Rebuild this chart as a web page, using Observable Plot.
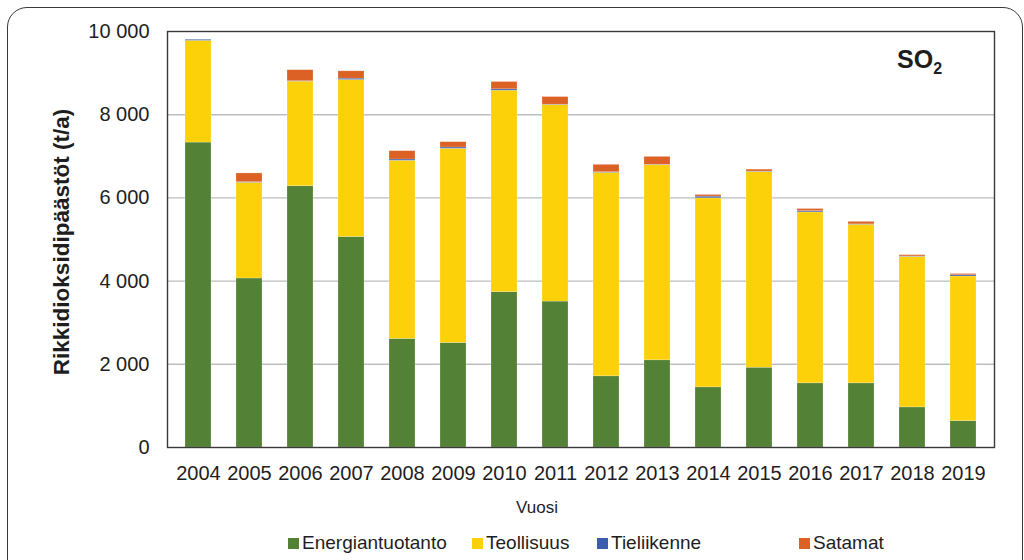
<!DOCTYPE html>
<html>
<head>
<meta charset="utf-8">
<script src="https://cdn.jsdelivr.net/npm/d3@7"></script>
<script src="https://cdn.jsdelivr.net/npm/@observablehq/plot@0.6"></script>
<style>
  html, body { margin: 0; padding: 0; background: #fff; }
  body { width: 1024px; height: 560px; overflow: hidden; position: relative; font-family: "Liberation Sans", Arial, sans-serif; color: #1e1e1e; }
  #border { position: absolute; left: 7px; top: 7px; width: 1016px; height: 600px; box-sizing: border-box; border: 1.5px solid #3a3a3a; border-radius: 20px; }
  #chart { position: absolute; left: 0; top: 0; }
  #ylabel { position: absolute; left: 62px; top: 242px; transform: translate(-50%, -50%) rotate(-90deg); font-weight: bold; font-size: 22.5px; white-space: nowrap; }
  #so2 { position: absolute; left: 897px; top: 45px; font-weight: bold; font-size: 25px; white-space: nowrap; }
  #so2 sub { font-size: 16px; vertical-align: -6px; }
  #xlabel { position: absolute; left: 537px; top: 508px; transform: translate(-50%, -50%); font-size: 17px; }
  .leg { position: absolute; top: 543px; transform: translateY(-50%); font-size: 19px; white-space: nowrap; display: flex; align-items: center; }
  .leg span.sw { display: inline-block; width: 11px; height: 11px; margin-right: 3px; }
</style>
</head>
<body>
<div id="border"></div>
<div id="chart"></div>
<div id="ylabel">Rikkidioksidipäästöt (t/a)</div>
<div id="so2">SO<sub>2</sub></div>
<div id="xlabel">Vuosi</div>
<div id="legend"></div>
<script>
const years = ["2004","2005","2006","2007","2008","2009","2010","2011","2012","2013","2014","2015","2016","2017","2018","2019"];
const seriesNames = ["Energiantuotanto", "Teollisuus", "Tieliikenne", "Satamat"];
const seriesColors = ["#538135", "#FCD10A", "#3A5DAE", "#DC6125"];
const energiantuotanto = [7330, 4063, 6280, 5060, 2610, 2513, 3735, 3508, 1711, 2096, 1446, 1918, 1542, 1542, 964, 634];
const teollisuus = [2445, 2300, 2515, 3774, 4282, 4668, 4843, 4723, 4891, 4690, 4544, 4706, 4111, 3812, 3619, 3477];
const tieliikenne = [25, 15, 10, 33, 31, 31, 32, 10, 15, 10, 40, 10, 30, 10, 10, 30];
const satamat = [0, 210, 265, 176, 200, 128, 176, 183, 178, 190, 40, 45, 50, 60, 30, 30];
const yTicks = [0, 2000, 4000, 6000, 8000, 10000];
const gridTicks = [2000, 4000, 6000, 8000];
const legendX = [288, 472, 597, 799];

const seriesValues = [energiantuotanto, teollisuus, tieliikenne, satamat];
const data = [];
seriesNames.forEach((name, si) => {
  years.forEach((yr, i) => data.push({year: yr, source: name, value: seriesValues[si][i]}));
});

const fmt = d => d3.format(",")(d).replace(/,/g, "\u00a0");

const chart = Plot.plot({
  width: 1024,
  height: 490,
  marginLeft: 167,
  marginRight: 30,
  marginTop: 31,
  marginBottom: 43,
  style: {fontFamily: "Liberation Sans, Arial, sans-serif", color: "#1e1e1e", background: "transparent"},
  x: {domain: years, paddingInner: 0.5, paddingOuter: 0.25, label: null},
  y: {domain: [0, 10000], label: null},
  color: {domain: seriesNames, range: seriesColors},
  marks: [
    Plot.ruleY(gridTicks, {stroke: "#bdbdbd", strokeWidth: 1.4}),
    Plot.barY(data, {x: "year", y: "value", fill: "source", stroke: "#ffffff", strokeOpacity: 0.35, strokeWidth: 0.6}),
    Plot.frame({stroke: "#3a3a3a", strokeWidth: 1.4}),
    Plot.axisY({ticks: yTicks, tickSize: 0, tickPadding: 18, tickFormat: fmt, fontSize: 20, label: null}),
    Plot.axisX({tickSize: 0, tickPadding: 18, fontSize: 20, label: null})
  ]
});
document.getElementById("chart").appendChild(chart);

const legend = document.getElementById("legend");
seriesNames.forEach((name, i) => {
  const d = document.createElement("div");
  d.className = "leg";
  d.style.left = legendX[i] + "px";
  d.innerHTML = `<span class="sw" style="background:${seriesColors[i]}"></span>${name}`;
  legend.appendChild(d);
});
</script>
</body>
</html>
